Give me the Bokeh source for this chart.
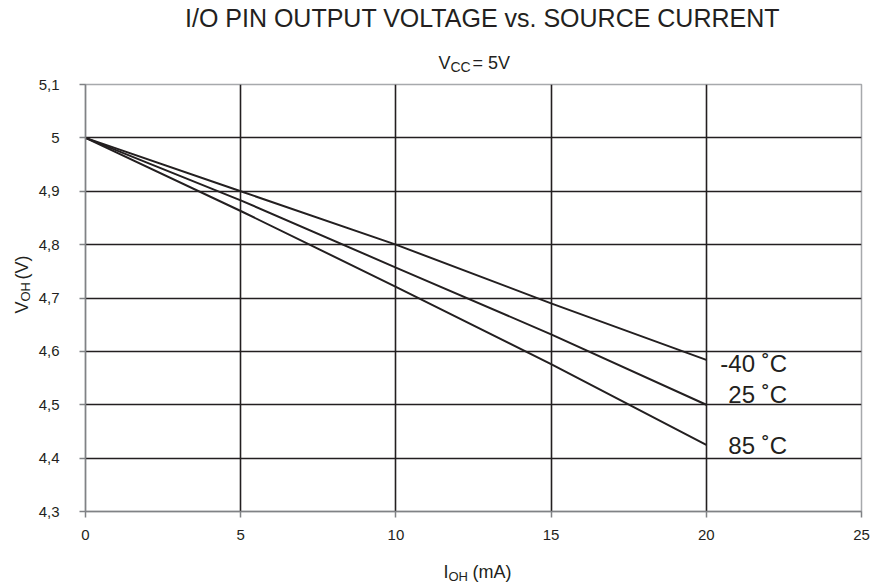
import math
from bokeh.plotting import figure
from bokeh.layouts import column, row
from bokeh.models import Label, FixedTicker, Range1d
from bokeh.embed import file_html
from bokeh.resources import INLINE

# ---- data ----
current_ma = [0, 5, 10, 15, 20]
v_m40 = [5.0, 4.90, 4.80, 4.69, 4.584]
v_25 = [5.0, 4.883, 4.757, 4.632, 4.50]
v_85 = [5.0, 4.863, 4.721, 4.576, 4.425]
series_names = ["-40 ˚C", "25 ˚C", "85 ˚C"]
x_ticks = [0, 5, 10, 15, 20, 25]
y_ticks = [4.3, 4.4, 4.5, 4.6, 4.7, 4.8, 4.9, 5.0, 5.1]
y_tick_labels = ["4,3", "4,4", "4,5", "4,6", "4,7", "4,8", "4,9", "5", "5,1"]
title_text = "I/O PIN OUTPUT VOLTAGE vs. SOURCE CURRENT"

FONT = "Liberation Sans"
INK = "#231f20"
W = 874
LEFT_W = 34


def blank(width, height):
    f = figure(width=width, height=height, x_range=Range1d(0, 1), y_range=Range1d(0, 1),
               output_backend="svg", toolbar_location=None, title=None,
               x_axis_location=None, y_axis_location=None, min_border=0)
    f.outline_line_color = None
    f.grid.visible = False
    f.background_fill_color = "white"
    f.border_fill_color = "white"
    return f


def lab(f, text, sx, sy, size, angle=0.0, align="left"):
    f.add_layout(Label(x=sx, y=sy, x_units="screen", y_units="screen", text=text,
                       angle=angle, text_font=FONT, text_font_size=size,
                       text_color=INK, text_align=align, text_baseline="middle"))


# ---- title band ----
top = blank(W, 74)
lab(top, title_text, 482, 57, "25px", align="center")
lab(top, "V", 438, 12, "18px")
lab(top, "CC", 450, 8, "14px")
lab(top, "= 5V", 472, 12, "18px")

# ---- main chart ----
p = figure(width=W - LEFT_W, height=472, x_range=(0, 25), y_range=(4.3, 5.1),
           output_backend="svg", toolbar_location=None, title=None,
           min_border_left=85 - LEFT_W, min_border_right=13, min_border_top=10,
           min_border_bottom=35)
p.background_fill_color = "white"
p.border_fill_color = "white"
p.outline_line_color = "#a7a9ac"
p.outline_line_width = 1.5

p.xaxis.ticker = FixedTicker(ticks=x_ticks)
p.yaxis.ticker = FixedTicker(ticks=y_ticks)
p.yaxis.major_label_overrides = {t: s for t, s in zip(y_ticks, y_tick_labels)}
for ax in (p.xaxis, p.yaxis):
    ax.axis_line_color = "#808285"
    ax.axis_line_width = 1.5
    ax.major_tick_out = 6
    ax.major_tick_in = 0
    ax.major_tick_line_color = "#808285"
    ax.major_tick_line_width = 1.5
    ax.minor_tick_line_color = None
    ax.major_label_text_font = FONT
    ax.major_label_text_font_size = "15px"
    ax.major_label_text_color = INK
p.xaxis.major_label_standoff = 12
p.yaxis.major_label_standoff = 20

p.xgrid.ticker = FixedTicker(ticks=x_ticks[1:-1])
p.ygrid.ticker = FixedTicker(ticks=y_ticks[1:-1])
for g in (p.xgrid, p.ygrid):
    g.grid_line_color = INK
    g.grid_line_width = 1.6

for ys in (v_m40, v_25, v_85):
    p.line(current_ma, ys, line_color=INK, line_width=2)

label_dx = [14, 22, 22]
label_dy = [-4, 10, -1]
for ys, name, dx, dy in zip((v_m40, v_25, v_85), series_names, label_dx, label_dy):
    p.add_layout(Label(x=current_ma[-1], y=ys[-1], text=name, x_offset=dx, y_offset=dy,
                       text_font=FONT, text_font_size="24px", text_color=INK,
                       text_align="left", text_baseline="middle"))

# ---- y axis title band ----
left = blank(LEFT_W, 472)
lab(left, "V", 21, 198, "18px", angle=math.pi / 2)
lab(left, "OH", 25, 210, "13px", angle=math.pi / 2)
lab(left, "(V)", 21, 232, "18px", angle=math.pi / 2)

# ---- x axis title band ----
bottom = blank(W, 40)
lab(bottom, "I", 443, 15, "18px")
lab(bottom, "OH", 448, 10, "13px")
lab(bottom, "(mA)", 472, 15, "18px")

layout = column(top, row(left, p), bottom)
open("out.html", "w").write(file_html(layout, INLINE))
